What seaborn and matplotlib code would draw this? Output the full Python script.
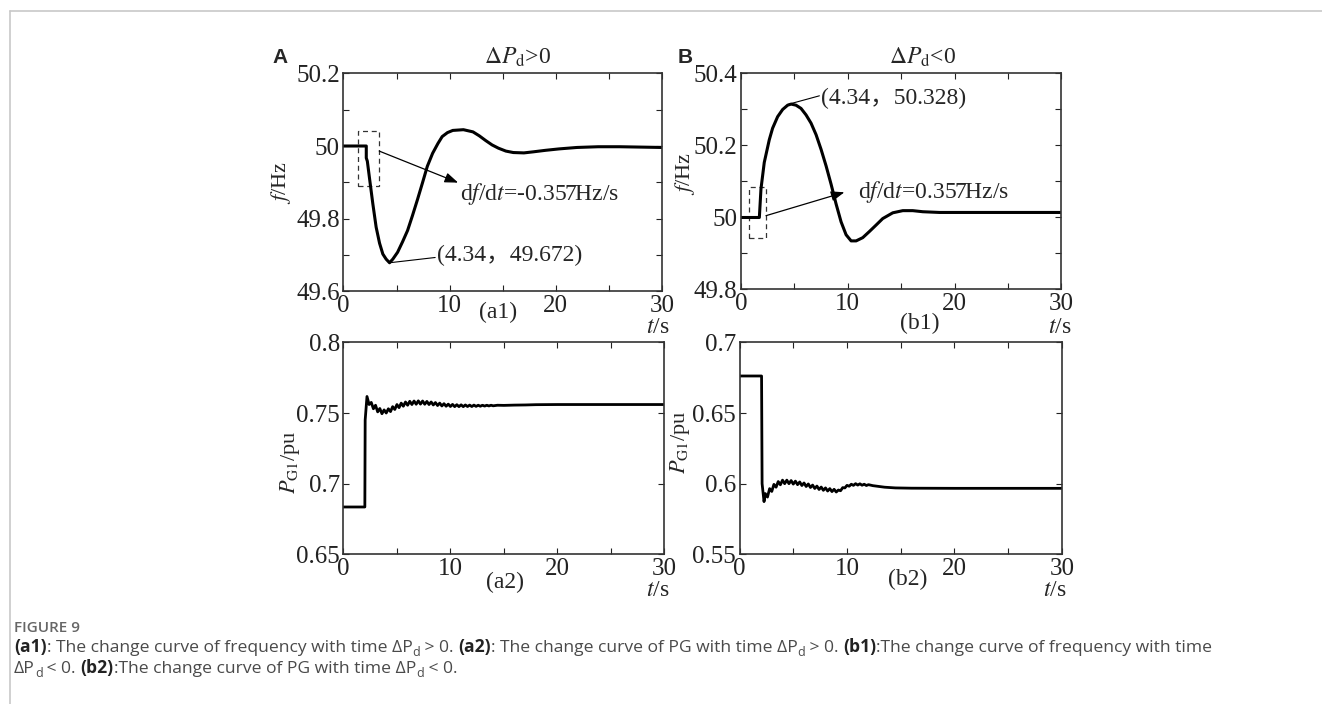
import matplotlib.pyplot as plt
from matplotlib.lines import Line2D
from matplotlib.patches import Rectangle
import seaborn as sns

# ---- data ----
# (a1) frequency, dPd > 0
t_a1 = [0, 2.15, 2.15, 2.25, 2.45, 2.77, 3.08, 3.4, 3.71, 4.02,
        4.34, 4.65, 5.1, 5.57, 6.04, 6.5, 6.98, 7.45, 7.9, 8.4,
        8.9, 9.3, 9.8, 10.3, 11.3, 12.2, 12.8, 13.4, 14.0, 14.6,
        15.3, 16.0, 17.0, 17.9, 19.0, 20.3, 22.0, 24.0, 26.0, 28.0, 30.0]
f_a1 = [50.0, 50.0, 49.967, 49.958, 49.912, 49.840, 49.776, 49.732, 49.702, 49.688,
        49.678, 49.688, 49.707, 49.736, 49.767, 49.808, 49.853, 49.899, 49.944, 49.980,
        50.007, 50.026, 50.037, 50.043, 50.045, 50.039, 50.028, 50.015, 50.003, 49.994,
        49.986, 49.982, 49.981, 49.984, 49.988, 49.992, 49.996, 49.998, 49.998, 49.997, 49.996]

# (b1) frequency, dPd < 0
t_b1 = [0, 1.72, 1.87, 2.18, 2.65, 2.96, 3.43, 3.90, 4.37, 4.69,
        5.15, 5.62, 6.09, 6.56, 7.03, 7.50, 7.97, 8.43, 8.90, 9.37,
        9.84, 10.31, 10.78, 11.40, 12.02, 12.65, 13.27, 14.21, 15.15, 16.08,
        17.02, 18.59, 22.0, 26.0, 30.0]
f_b1 = [50.0, 50.0, 50.079, 50.153, 50.216, 50.248, 50.280, 50.300, 50.312, 50.315,
        50.312, 50.303, 50.285, 50.262, 50.230, 50.189, 50.143, 50.093, 50.038, 49.988,
        49.952, 49.935, 49.935, 49.944, 49.961, 49.979, 49.997, 50.013, 50.019, 50.019,
        50.016, 50.014, 50.014, 50.014, 50.014]

# (a2) generator power, dPd > 0
t_a2 = [0, 2.0, 2.03, 2.2,
        2.4, 2.6, 2.8, 3.0, 3.2, 3.4, 3.6, 3.8, 4.0, 4.2,
        4.4, 4.6, 4.8, 5.0, 5.2, 5.4, 5.6, 5.8, 6.0, 6.2,
        6.4, 6.6, 6.8, 7.0, 7.2, 7.4, 7.6, 7.8, 8.0, 8.2,
        8.4, 8.6, 8.8, 9.0, 9.2, 9.4, 9.6, 9.8, 10.0, 10.2,
        10.4, 10.6, 10.8, 11.0, 11.2, 11.4, 11.6, 11.8, 12.0, 12.2,
        12.4, 12.6, 12.8, 13.0, 13.2, 13.4, 13.6, 13.8, 14.0,
        14.4, 15.0, 16.0, 17.0, 18.0, 20.0, 25.0, 30.0]
p_a2 = [0.6835, 0.6835, 0.745, 0.7617,
        0.7560, 0.7575, 0.7530, 0.7555, 0.7508, 0.7532, 0.7495, 0.7522, 0.7500, 0.7530,
        0.7510, 0.7545, 0.7525, 0.7560, 0.7538, 0.7570, 0.7548, 0.7578, 0.7555, 0.7583,
        0.7560, 0.7585, 0.7562, 0.7586, 0.7563, 0.7585, 0.7562, 0.7582, 0.7560, 0.7578,
        0.7557, 0.7574, 0.7553, 0.7570, 0.7550, 0.7566, 0.7548, 0.7563, 0.7546, 0.7561,
        0.7545, 0.7559, 0.7545, 0.7558, 0.7545, 0.7557, 0.7546, 0.7556, 0.7546, 0.7556,
        0.7547, 0.7555, 0.7548, 0.7555, 0.7549, 0.7555, 0.7550, 0.7555, 0.7551,
        0.7555, 0.7554, 0.7556, 0.7557, 0.7559, 0.7560, 0.7560, 0.7560]

# (b2) generator power, dPd < 0
t_b2 = [0, 2.05, 2.1, 2.28,
        2.4, 2.6, 2.8, 3.0, 3.2, 3.4, 3.6, 3.8, 4.0, 4.2,
        4.4, 4.6, 4.8, 5.0, 5.2, 5.4, 5.6, 5.8, 6.0, 6.2,
        6.4, 6.6, 6.8, 7.0, 7.2, 7.4, 7.6, 7.8, 8.0, 8.2,
        8.4, 8.6, 8.8, 9.0, 9.2, 9.4, 9.6, 9.8, 10.0, 10.2,
        10.4, 10.6, 10.8, 11.0, 11.2, 11.4, 11.6, 11.8, 12.0,
        12.4, 12.8, 13.5, 14.5, 16.0, 20.0, 30.0]
p_b2 = [0.6762, 0.6762, 0.600, 0.5873,
        0.5930, 0.5905, 0.5965, 0.5945, 0.5995, 0.5975, 0.6015, 0.5992, 0.6025, 0.6000,
        0.6025, 0.6000, 0.6022, 0.5997, 0.6018, 0.5993, 0.6012, 0.5987, 0.6005, 0.5980,
        0.5998, 0.5973, 0.5990, 0.5966, 0.5983, 0.5959, 0.5976, 0.5953, 0.5970, 0.5948,
        0.5965, 0.5944, 0.5960, 0.5941, 0.5955, 0.5950, 0.5972, 0.5970, 0.5988, 0.5982,
        0.5996, 0.5988, 0.6000, 0.5990, 0.5999, 0.5989, 0.5996, 0.5987, 0.5993,
        0.5986, 0.5982, 0.5975, 0.5970, 0.5968, 0.5967, 0.5967]

x_ticks = [0, 5, 10, 15, 20, 25, 30]
x_ticklabels = ['0', '', '10', '', '20', '', '30']

# ---- style ----
sns.set_style("ticks")
plt.rcParams['font.family'] = ['Liberation Serif', 'Noto Sans CJK SC']
plt.rcParams['mathtext.fontset'] = 'stix'

fig = plt.figure(figsize=(13.22, 7.04), dpi=100)

ax_a1 = fig.add_axes([0.2598, 0.5866, 0.2409, 0.3090])
ax_b1 = fig.add_axes([0.5605, 0.5888, 0.2424, 0.3068])
ax_a2 = fig.add_axes([0.2598, 0.2126, 0.2427, 0.3011])
ax_b2 = fig.add_axes([0.5594, 0.2126, 0.2439, 0.3011])


def setup(ax, ylim, yticks, ylabels):
    ax.set_xlim(0, 30)
    ax.set_ylim(ylim)
    ax.set_xticks(x_ticks)
    ax.set_xticklabels(x_ticklabels)
    ax.set_yticks(yticks)
    ax.set_yticklabels(ylabels)
    ax.tick_params(direction='in', top=True, right=True, length=4, width=0.8,
                   labelsize=18, pad=2.5, colors='#222222')
    for s in ax.spines.values():
        s.set_visible(True)
        s.set_linewidth(1.2)
        s.set_color('#333333')
    ax.set_xlabel('')
    ax.set_ylabel('')


sns.lineplot(x=t_a1, y=f_a1, ax=ax_a1, color='black', lw=2.2, estimator=None, sort=False)
sns.lineplot(x=t_b1, y=f_b1, ax=ax_b1, color='black', lw=2.2, estimator=None, sort=False)
sns.lineplot(x=t_a2, y=p_a2, ax=ax_a2, color='black', lw=2.0, estimator=None, sort=False)
sns.lineplot(x=t_b2, y=p_b2, ax=ax_b2, color='black', lw=2.0, estimator=None, sort=False)

setup(ax_a1, (49.6, 50.2), [49.6, 49.7, 49.8, 49.9, 50.0, 50.1, 50.2],
      ['49.6', '', '49.8', '', '50', '', '50.2'])
setup(ax_b1, (49.8, 50.4), [49.8, 49.9, 50.0, 50.1, 50.2, 50.3, 50.4],
      ['49.8', '', '50', '', '50.2', '', '50.4'])
setup(ax_a2, (0.65, 0.8), [0.65, 0.7, 0.75, 0.8], ['0.65', '0.7', '0.75', '0.8'])
setup(ax_b2, (0.55, 0.7), [0.55, 0.6, 0.65, 0.7], ['0.55', '0.6', '0.65', '0.7'])

# axis labels
ax_a1.set_ylabel(r'$f$/Hz', fontsize=16)
ax_a1.yaxis.set_label_coords(-0.159, 0.497)
ax_b1.set_ylabel(r'$f$/Hz', fontsize=16)
ax_b1.yaxis.set_label_coords(-0.137, 0.539)
ax_a2.set_ylabel(r'$P_\mathrm{G1}$/pu', fontsize=16)
ax_a2.yaxis.set_label_coords(-0.129, 0.437)
ax_b2.set_ylabel(r'$P_\mathrm{G1}$/pu', fontsize=16)
ax_b2.yaxis.set_label_coords(-0.147, 0.527)

for ax, (tx, ty), tag, (px, py) in [
        (ax_a1, (0.987, -0.168), '(a1)', (0.485, -0.097)),
        (ax_b1, (0.995, -0.178), '(b1)', (0.558, -0.155)),
        (ax_a2, (0.980, -0.170), '(a2)', (0.503, -0.131)),
        (ax_b2, (0.978, -0.172), '(b2)', (0.522, -0.117))]:
    ax.text(tx, ty, r'$t$/s', transform=ax.transAxes, ha='center', va='center', fontsize=17)
    ax.text(px, py, tag, transform=ax.transAxes, ha='center', va='center', fontsize=17)

# titles and panel letters
ax_a1.text(0.548, 1.076, r'$\Delta P_\mathrm{d}$>0', transform=ax_a1.transAxes,
           ha='center', va='center', fontsize=17)
ax_b1.text(0.565, 1.076, r'$\Delta P_\mathrm{d}$<0', transform=ax_b1.transAxes,
           ha='center', va='center', fontsize=17)
fig.text(0.2118, 0.919, 'A', fontsize=15, fontweight='bold', family='Liberation Sans',
         ha='center', va='center')
fig.text(0.518, 0.919, 'B', fontsize=15, fontweight='bold', family='Liberation Sans',
         ha='center', va='center')

# annotations a1
ax_a1.add_patch(Rectangle((1.39, 49.89), 3.37 - 1.39, 50.041 - 49.89, fill=False,
                          ls=(0, (4, 3)), lw=0.9, ec='#333333'))
ax_a1.annotate('', xy=(10.8, 49.899), xytext=(3.37, 49.986),
               arrowprops=dict(arrowstyle='-|>,head_length=0.8,head_width=0.3',
                               lw=0.9, color='black', shrinkA=0, shrinkB=0))
ax_a1.text(10.98, 49.867, r'd$f$/d$t$=-0.357Hz/s', fontsize=17, ha='left', va='center')
ax_a1.plot([4.34, 8.64], [49.678, 49.6925], color='black', lw=0.8)
ax_a1.text(8.79, 49.697, '(4.34，49.672)', fontsize=17, ha='left', va='center')

# annotations b1
ax_b1.add_patch(Rectangle((0.72, 49.942), 2.34 - 0.72, 50.084 - 49.942, fill=False,
                          ls=(0, (4, 3)), lw=0.9, ec='#333333'))
ax_b1.annotate('', xy=(9.68, 50.07), xytext=(2.34, 50.005),
               arrowprops=dict(arrowstyle='-|>,head_length=0.8,head_width=0.3',
                               lw=0.9, color='black', shrinkA=0, shrinkB=0))
ax_b1.text(10.93, 50.07, r'd$f$/d$t$=0.357Hz/s', fontsize=17, ha='left', va='center')
ax_b1.plot([4.5, 7.34], [50.315, 50.338], color='black', lw=0.8)
ax_b1.text(7.49, 50.331, '(4.34，50.328)', fontsize=17, ha='left', va='center')

# frame lines of the page
fig.add_artist(Line2D([10 / 1322, 1], [1 - 11 / 704, 1 - 11 / 704],
                      transform=fig.transFigure, color='#c8c8c8', lw=1.2))
fig.add_artist(Line2D([10 / 1322, 10 / 1322], [0, 1 - 11 / 704],
                      transform=fig.transFigure, color='#c8c8c8', lw=1.2))

# caption
ax_cap = fig.add_axes([0, 0, 1, 1], zorder=-1)
ax_cap.axis('off')
cap_font = ['Open Sans', 'DejaVu Sans']
ax_cap.text(14 / 1322, 1 - 632 / 704, 'FIGURE 9', transform=fig.transFigure,
            fontsize=11, fontweight='semibold', family=cap_font, color='#666666',
            va='baseline', ha='left')


def caption_line(x0, y0, parts):
    prev = None
    for s, bold, sub in parts:
        kw = dict(fontsize=9 if sub else 12.6, fontweight='bold' if bold else 'normal',
                  family=cap_font, color='#222222' if bold else '#4a4a4a',
                  va='baseline', ha='left')
        if prev is None:
            prev = ax_cap.annotate(s, xy=(x0, y0), xycoords='figure fraction', **kw)
        else:
            prev = ax_cap.annotate(s, xy=(1, y0), xycoords=(prev, 'figure fraction'),
                                   xytext=(0, -3 if sub else 0),
                                   textcoords='offset points', **kw)


caption_line(14 / 1322, 1 - 652 / 704, [
    ('(a1)', True, False), (': The change curve of frequency with time ΔP', False, False),
    ('d', False, True), (' > 0. ', False, False),
    ('(a2)', True, False), (': The change curve of PG with time ΔP', False, False),
    ('d', False, True), (' > 0. ', False, False),
    ('(b1)', True, False), (':The change curve of frequency with time', False, False)])
caption_line(14 / 1322, 1 - 673 / 704, [
    ('ΔP', False, False), ('d', False, True), (' < 0. ', False, False),
    ('(b2)', True, False), (':The change curve of PG with time ΔP', False, False),
    ('d', False, True), (' < 0.', False, False)])

fig.savefig('out.png', dpi=100)
